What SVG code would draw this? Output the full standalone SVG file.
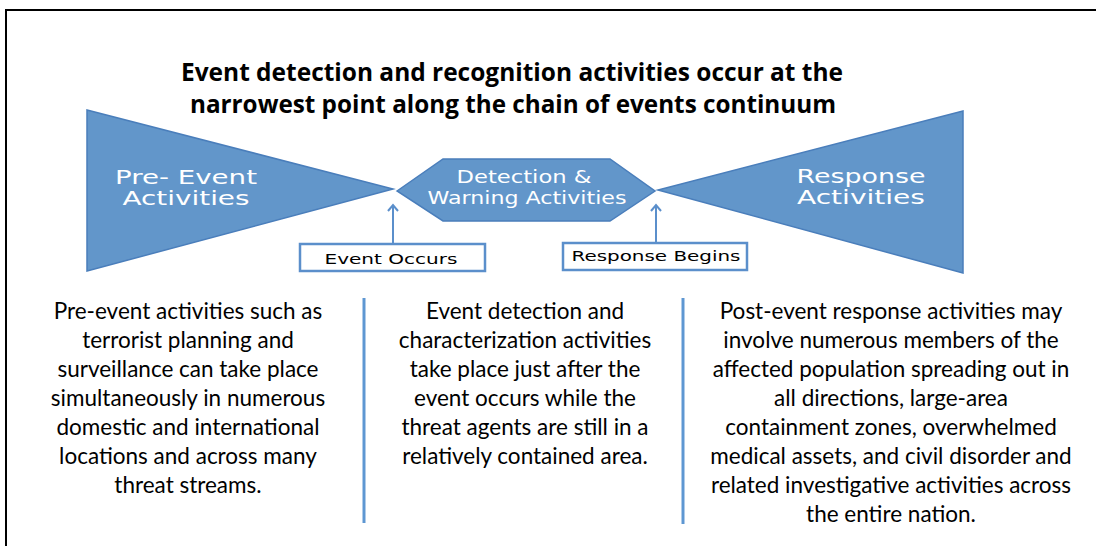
<svg xmlns="http://www.w3.org/2000/svg" width="1096" height="546" viewBox="0 0 1096 546">
  <defs>
    <style>
      .title { font-family: "Open Sans", "Liberation Sans", sans-serif; font-weight: bold; font-size: 25px; fill: #000; text-anchor: middle; }
      .shape { fill: #6296CA; stroke: #4A7EBB; stroke-width: 1.5; }
      .shape-label { font-family: "DejaVu Sans", sans-serif; fill: #fff; text-anchor: middle; }
      .tag-box { fill: #fff; stroke: #5B8FCB; stroke-width: 2.5; }
      .tag-label { font-family: "DejaVu Sans", sans-serif; font-size: 14px; fill: #000; text-anchor: middle; }
      .body { font-family: "Lato", "Liberation Sans", sans-serif; font-size: 22.5px; fill: #000; text-anchor: middle; }
      .divider { stroke: #5E97D2; stroke-width: 3; }
      .arrow { stroke: #5B8FCB; stroke-width: 2; fill: none; }
    </style>
    <!-- open chevron head; marker x-axis follows the line direction -->
    <marker id="openHead" viewBox="0 0 12 12" refX="10" refY="6" markerWidth="12" markerHeight="12" markerUnits="userSpaceOnUse" orient="auto">
      <path d="M4,1 L10,6 L4,11" fill="none" stroke="#5B8FCB" stroke-width="2"/>
    </marker>
  </defs>

  <rect width="1096" height="546" fill="#fff"/>
  <!-- outer frame -->
  <rect x="6" y="10" width="1200" height="600" fill="none" stroke="#000" stroke-width="2"/>

  <!-- heading -->
  <g id="heading">
    <text class="title" x="512" y="81" textLength="662" lengthAdjust="spacingAndGlyphs">Event detection and recognition activities occur at the</text>
    <text class="title" x="513" y="113" textLength="646" lengthAdjust="spacingAndGlyphs">narrowest point along the chain of events continuum</text>
  </g>

  <!-- pre-event wedge -->
  <g id="pre-event">
    <polygon class="shape" points="87,110 393,189 87,271"/>
    <text class="shape-label" x="186" y="184" font-size="19" textLength="142" lengthAdjust="spacingAndGlyphs">Pre- Event</text>
    <text class="shape-label" x="186" y="205" font-size="19" textLength="127" lengthAdjust="spacingAndGlyphs">Activities</text>
  </g>

  <!-- detection hexagon -->
  <g id="detection">
    <polygon class="shape" points="397,191 443,159 610,159 655,191 610,221 443,221"/>
    <text class="shape-label" x="524" y="183" font-size="17" textLength="135" lengthAdjust="spacingAndGlyphs">Detection &amp;</text>
    <text class="shape-label" x="527" y="204" font-size="17" textLength="199" lengthAdjust="spacingAndGlyphs">Warning Activities</text>
  </g>

  <!-- response wedge -->
  <g id="response">
    <polygon class="shape" points="963,111 658,190 963,273"/>
    <text class="shape-label" x="861" y="183" font-size="19" textLength="129" lengthAdjust="spacingAndGlyphs">Response</text>
    <text class="shape-label" x="861" y="204" font-size="19" textLength="128" lengthAdjust="spacingAndGlyphs">Activities</text>
  </g>

  <!-- milestone tags -->
  <g id="event-occurs">
    <rect class="tag-box" x="300" y="244" width="185" height="27"/>
    <text class="tag-label" x="391" y="264" textLength="133" lengthAdjust="spacingAndGlyphs">Event Occurs</text>
  </g>
  <g id="response-begins">
    <rect class="tag-box" x="563" y="243" width="184" height="27"/>
    <text class="tag-label" x="656" y="261" textLength="169" lengthAdjust="spacingAndGlyphs">Response Begins</text>
  </g>

  <!-- connectors -->
  <g id="connectors">
    <line class="arrow" x1="393" y1="243" x2="393" y2="205" marker-end="url(#openHead)"/>
    <line class="arrow" x1="656" y1="242" x2="656" y2="205" marker-end="url(#openHead)"/>
    <line class="divider" x1="364" y1="298" x2="364" y2="523"/>
    <line class="divider" x1="683" y1="298" x2="683" y2="524"/>
  </g>

  <!-- column notes -->
  <g id="note-pre">
    <text class="body" x="188" y="319">Pre-event activities such as</text>
    <text class="body" x="188" y="348">terrorist planning and</text>
    <text class="body" x="188" y="377">surveillance can take place</text>
    <text class="body" x="188" y="406">simultaneously in numerous</text>
    <text class="body" x="188" y="435">domestic and international</text>
    <text class="body" x="188" y="464">locations and across many</text>
    <text class="body" x="188" y="493">threat streams.</text>
  </g>
  <g id="note-detection">
    <text class="body" x="525" y="319">Event detection and</text>
    <text class="body" x="525" y="348">characterization activities</text>
    <text class="body" x="525" y="377">take place just after the</text>
    <text class="body" x="525" y="406">event occurs while the</text>
    <text class="body" x="525" y="435">threat agents are still in a</text>
    <text class="body" x="525" y="464">relatively contained area.</text>
  </g>
  <g id="note-response">
    <text class="body" x="891" y="319">Post-event response activities may</text>
    <text class="body" x="891" y="348">involve numerous members of the</text>
    <text class="body" x="891" y="377">affected population spreading out in</text>
    <text class="body" x="891" y="406">all directions, large-area</text>
    <text class="body" x="891" y="435">containment zones, overwhelmed</text>
    <text class="body" x="891" y="464">medical assets, and civil disorder and</text>
    <text class="body" x="891" y="493">related investigative activities across</text>
    <text class="body" x="891" y="522">the entire nation.</text>
  </g>
</svg>
